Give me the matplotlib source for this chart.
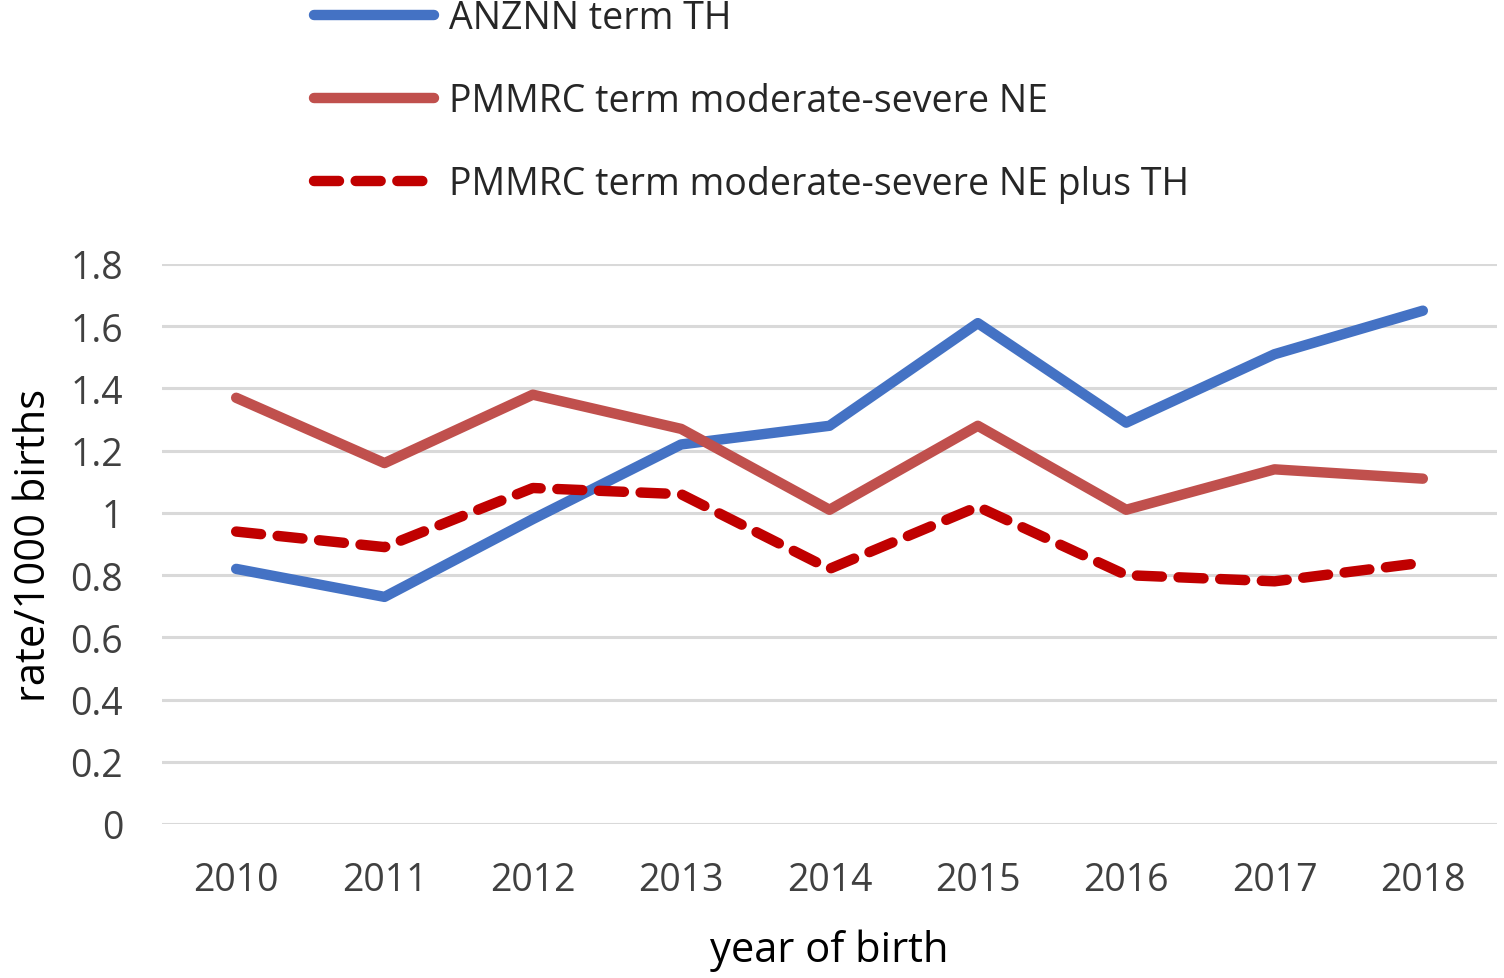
import matplotlib.pyplot as plt

years = ['2010', '2011', '2012', '2013', '2014', '2015', '2016', '2017', '2018']
anznn_th = [0.82, 0.73, 0.98, 1.22, 1.28, 1.61, 1.29, 1.51, 1.65]
pmmrc_ne = [1.37, 1.16, 1.38, 1.27, 1.01, 1.28, 1.01, 1.14, 1.11]
pmmrc_ne_th = [0.94, 0.89, 1.08, 1.06, 0.82, 1.02, 0.80, 0.78, 0.84]
y_ticks = [0, 0.2, 0.4, 0.6, 0.8, 1, 1.2, 1.4, 1.6, 1.8]
y_tick_labels = ['0', '0.2', '0.4', '0.6', '0.8', '1', '1.2', '1.4', '1.6', '1.8']

plt.rcParams['font.family'] = ['Open Sans', 'DejaVu Sans']
text_col = '#404040'

fig = plt.figure(figsize=(15.04, 9.79), dpi=100)
ax = fig.add_axes([162/1504, 1-825/979, (1497-162)/1504, (825-265)/979])

x = list(range(len(years)))
ax.plot(x, anznn_th, color='#4472C4', lw=7.5, solid_capstyle='round', label='ANZNN term TH', zorder=3)
ax.plot(x, pmmrc_ne, color='#C0504D', lw=7.5, solid_capstyle='round', label='PMMRC term moderate-severe NE', zorder=3)
ax.plot(x, pmmrc_ne_th, color='#C00000', lw=7.5, dashes=(2.4, 1.6), dash_capstyle='round',
        label='PMMRC term moderate-severe NE plus TH', zorder=3)

ax.set_xlim(-0.5, len(years) - 0.5)
ax.set_ylim(0, 1.8)
ax.set_xticks(x)
ax.set_xticklabels(years)
ax.set_yticks(y_ticks)
ax.set_yticklabels(y_tick_labels)
ax.tick_params(axis='both', length=0, labelsize=27, colors=text_col)
ax.tick_params(axis='y', pad=28)
ax.tick_params(axis='x', pad=27)
ax.grid(axis='y', color='#D9D9D9', lw=2.2)
ax.set_axisbelow(True)
for s in ax.spines.values():
    s.set_visible(False)
for ln in ax.lines:
    ln.set_clip_on(False)

ax.set_xlabel('year of birth', fontsize=30, color='black', labelpad=21)
ax.set_ylabel('rate/1000 births', fontsize=30, color='black', labelpad=11)

fig.legend(loc='upper left', bbox_to_anchor=(314/1504, 1.0), frameon=False, fontsize=27,
           handlelength=3.2, handletextpad=0.4, labelspacing=1.2, borderpad=0.0,
           borderaxespad=0, labelcolor='#262626')

fig.savefig('out.png', dpi=100)
